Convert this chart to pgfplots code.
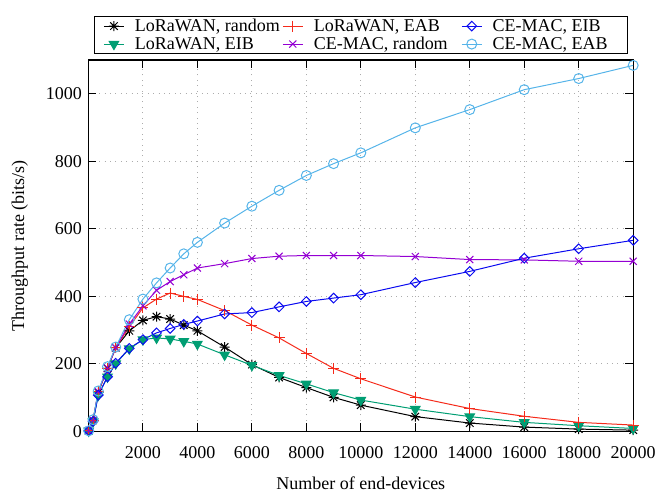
\documentclass[border=0pt]{standalone}
\usepackage{fontspec}
\setmainfont{Liberation Serif}
\usepackage{pgfplots}
\pgfplotsset{compat=1.18}
\definecolor{cblack}{HTML}{000000}
\definecolor{cgreen}{HTML}{009E73}
\definecolor{cred}{HTML}{F52A1A}
\definecolor{cpurple}{HTML}{9400D3}
\definecolor{cblue}{HTML}{0A0AF0}
\definecolor{clblue}{HTML}{56B4E9}
\pgfdeclareplotmark{gpstar}{%
  \pgfpathmoveto{\pgfqpoint{-\pgfplotmarksize}{0pt}}\pgfpathlineto{\pgfqpoint{\pgfplotmarksize}{0pt}}%
  \pgfpathmoveto{\pgfqpoint{0pt}{-\pgfplotmarksize}}\pgfpathlineto{\pgfqpoint{0pt}{\pgfplotmarksize}}%
  \pgfpathmoveto{\pgfqpoint{-.75\pgfplotmarksize}{-.75\pgfplotmarksize}}\pgfpathlineto{\pgfqpoint{.75\pgfplotmarksize}{.75\pgfplotmarksize}}%
  \pgfpathmoveto{\pgfqpoint{-.75\pgfplotmarksize}{.75\pgfplotmarksize}}\pgfpathlineto{\pgfqpoint{.75\pgfplotmarksize}{-.75\pgfplotmarksize}}%
  \pgfusepathqstroke}
\pgfplotsset{
  lr/.style={cblack, line width=1pt, mark=gpstar, mark size=5pt, mark options={solid, line width=1pt}},
  leib/.style={cgreen, line width=1pt, mark=triangle*, mark size=5.5pt, mark options={solid, rotate=180, fill=cgreen, draw=cgreen}},
  leab/.style={cred, line width=1pt, mark=+, mark size=5.5pt, mark options={solid, line width=1pt}},
  cr/.style={cpurple, line width=1pt, mark=x, mark size=5pt, mark options={solid, line width=1pt}},
  ceib/.style={cblue, line width=1pt, mark=square, mark size=3.4pt, mark options={solid, rotate=45, line width=1pt, fill=none}},
  ceab/.style={clblue, line width=1pt, mark=o, mark size=5pt, mark options={solid, line width=1pt, fill=none}},
}
\pgfplotstableread{
x lr leib leab cr ceib ceab
10 2 2 2 2 2 2
170 33 30 33 33 30 35
360 116 108 117 118 108 120
700 187 162 187 188 162 192
1000 248 201 248 248 202 250
1500 298 245 310 318 246 331
2000 329 272 366 372 272 392
2500 340 277 392 418 292 440
3000 333 274 410 444 305 484
3500 315 267 400 464 317 526
4000 298 259 391 484 327 560
5000 250 227 358 497 348 617
6000 198 196 315 512 352 667
7000 160 166 277 519 369 714
8000 130 141 231 521 385 758
9000 101 115 187 521 395 793
10000 78 93 156 521 405 825
12000 44 66 102 518 441 899
14000 25 44 68 509 474 953
16000 13 27 45 508 513 1012
18000 7 17 27 504 541 1045
20000 4 9 19 504 566 1084
}\datatable
\newcommand{\lentA}[1]{\makebox[147pt][l]{#1}}
\newcommand{\lentB}[1]{\makebox[125pt][l]{#1}}
\begin{document}
\begin{tikzpicture}[font=\fontsize{18}{21}\selectfont]
\begin{axis}[
  name=ax,
  scale only axis,
  width=545pt, height=371.7pt,
  xmin=0, xmax=20000, ymin=0, ymax=1100,
  xtick={2000,4000,...,20000},
  ytick={0,200,...,1000},
  scaled x ticks=false,
  /pgf/number format/.cd, 1000 sep={}, assume math mode=true, /pgfplots/.cd,
  tick label style={font=\fontsize{18}{21}\selectfont},
  label style={font=\fontsize{18}{21}\selectfont},
  xticklabel style={yshift=-12pt},
  yticklabel style={xshift=-3pt},
  xlabel={Number of end-devices},
  ylabel={Throughput rate (bits/s)},
  xlabel style={yshift=-11pt},
  ylabel style={yshift=11pt},
  axis line style={line width=1.2pt},
  tick align=inside,
  major tick length=8pt,
  tick style={line width=1pt, black},
  grid=major,
  grid style={gray!65, line width=0.9pt, dash pattern=on 0.9pt off 4.5pt},
  legend columns=3,
  legend cell align=left,
  legend style={at={(0.5,1)}, anchor=south, yshift=6pt, draw=black, line width=0.8pt,
    font=\fontsize{18}{21}\selectfont, inner xsep=9pt, inner ysep=2pt,
    nodes={inner sep=0.5pt}, row sep=3pt,
    /tikz/every odd column/.append style={column sep=10pt},
    /tikz/every even column/.append style={column sep=0pt}},
  legend image code/.code={\draw[mark repeat=2,mark phase=2] plot coordinates {(0pt,0pt)(10pt,0pt)(20pt,0pt)};},
]
\addplot[lr, forget plot] table[x=x, y=lr] {\datatable};
\addplot[leib, forget plot] table[x=x, y=leib] {\datatable};
\addplot[leab, forget plot] table[x=x, y=leab] {\datatable};
\addplot[cr, forget plot] table[x=x, y=cr] {\datatable};
\addplot[ceib, forget plot] table[x=x, y=ceib] {\datatable};
\addplot[ceab, forget plot] table[x=x, y=ceab] {\datatable};
\addlegendimage{lr}\addlegendentry{\lentA{LoRaWAN, random}}
\addlegendimage{leab}\addlegendentry{\lentA{LoRaWAN, EAB}}
\addlegendimage{ceib}\addlegendentry{\lentB{CE-MAC, EIB}}
\addlegendimage{leib}\addlegendentry{\lentA{LoRaWAN, EIB}}
\addlegendimage{cr}\addlegendentry{\lentA{CE-MAC, random}}
\addlegendimage{ceab}\addlegendentry{\lentB{CE-MAC, EAB}}
\end{axis}
\path ([shift={(-88.5pt,-63.3pt)}]ax.south west) rectangle ++(659pt,495pt);
\end{tikzpicture}
\end{document}
